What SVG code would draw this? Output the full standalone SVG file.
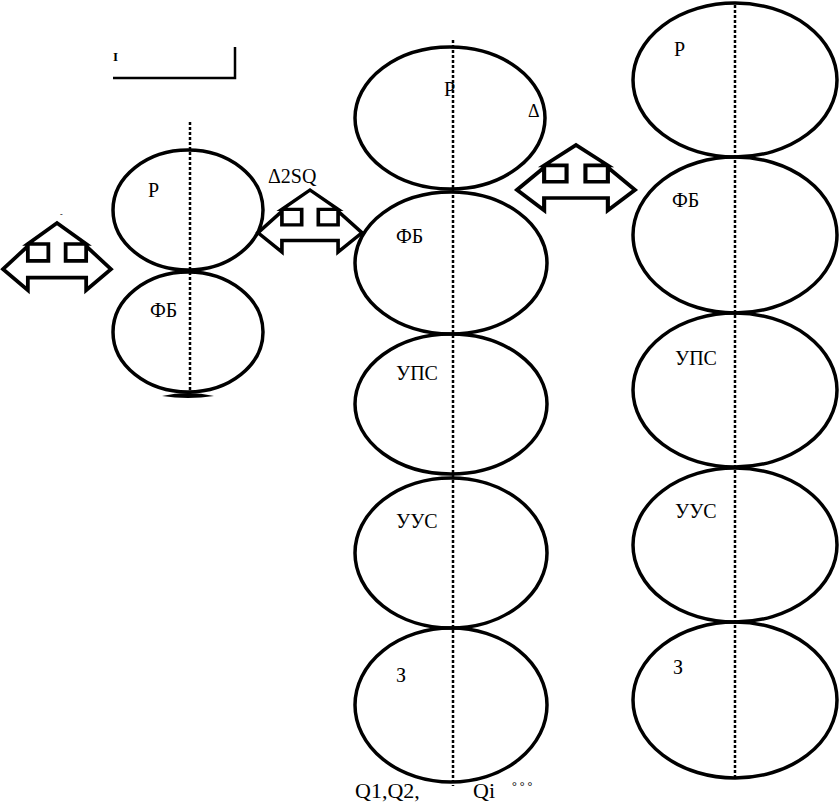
<svg xmlns="http://www.w3.org/2000/svg" width="839" height="803" viewBox="0 0 839 803">
<style>
.el{fill:none;stroke:#000;stroke-width:3.5}
.ax{fill:none;stroke:#000;stroke-width:2.5;stroke-dasharray:3 2}
.ar{fill:#fff;stroke:#000;stroke-width:3.5;vector-effect:non-scaling-stroke;stroke-linejoin:miter}
text{font-family:'Liberation Serif','DejaVu Serif',serif;font-size:20px;fill:#000}
</style>
<defs>
<polygon id="arr" points="-50,44 -27,22 -27,36 -8,36 -8,20 -27,20 0,0 27,20 8,20 8,36 27,36 27,22 50,44 27,64 27,52 -27,52 -27,64"/>
</defs>
<rect width="839" height="803" fill="#fff"/>
<g id="connectors">
<line class="ax" x1="190" y1="122" x2="190" y2="394"/>
<line class="ax" x1="453" y1="40" x2="453" y2="786"/>
<line class="ax" x1="735" y1="5" x2="735" y2="780"/>
<path d="M113,78 H235 V47" fill="none" stroke="#000" stroke-width="2.5"/>
</g>
<g id="left-P"><ellipse class="el" cx="188" cy="210" rx="75" ry="60"/><text x="148" y="197">Р</text></g>
<g id="left-FB"><ellipse class="el" cx="188" cy="332" rx="75" ry="60"/><text x="150" y="317">ФБ</text></g>
<g id="left-stub"><path d="M162,396 Q188,390 214,396 Q188,400 162,396 Z" fill="#000"/></g>
<g id="mid-P"><ellipse class="el" cx="450" cy="118" rx="95" ry="71"/><text x="444" y="96">Р</text></g>
<g id="mid-FB"><ellipse class="el" cx="451" cy="263" rx="96" ry="71"/><text x="396" y="243">ФБ</text></g>
<g id="mid-UPS"><ellipse class="el" cx="451" cy="404" rx="96" ry="70"/><text x="396" y="380">УПС</text></g>
<g id="mid-UUS"><ellipse class="el" cx="451" cy="553" rx="96" ry="75"/><text x="396" y="528">УУС</text></g>
<g id="mid-Z"><ellipse class="el" cx="451" cy="705" rx="96" ry="77"/><text x="396" y="682">З</text></g>
<g id="right-P"><ellipse class="el" cx="735" cy="80" rx="102" ry="77"/><text x="674" y="56">Р</text></g>
<g id="right-FB"><ellipse class="el" cx="735" cy="235" rx="102" ry="78"/><text x="672" y="207">ФБ</text></g>
<g id="right-UPS"><ellipse class="el" cx="735" cy="390" rx="102" ry="77"/><text x="675" y="365">УПС</text></g>
<g id="right-UUS"><ellipse class="el" cx="735" cy="545" rx="102" ry="77"/><text x="675" y="518">УУС</text></g>
<g id="right-Z"><ellipse class="el" cx="735" cy="700" rx="102" ry="78"/><text x="673" y="674">З</text></g>
<g id="arrow-left"><use href="#arr" class="ar" transform="translate(57,223) scale(1.08,1.05)"/><text x="60" y="217" style="font-size:8px">-</text></g>
<g id="arrow-mid"><use href="#arr" class="ar" transform="translate(310,190) scale(1.04,0.97)"/><text x="268" y="183" style="font-size:20px">Δ2SQ</text></g>
<g id="arrow-right"><use href="#arr" class="ar" transform="translate(576,145) scale(1.18,1.02)"/><text x="528" y="117" style="font-size:18px">Δ</text></g>
<g id="labels">
<text x="113" y="61" style="font-size:13px;font-weight:bold">I</text>
<text x="355" y="798" style="font-size:22px">Q1,Q2,</text>
<text x="473" y="798" style="font-size:22px">Qi</text>
<text x="512" y="790" style="font-size:12px">° ° °</text>
</g>
</svg>
